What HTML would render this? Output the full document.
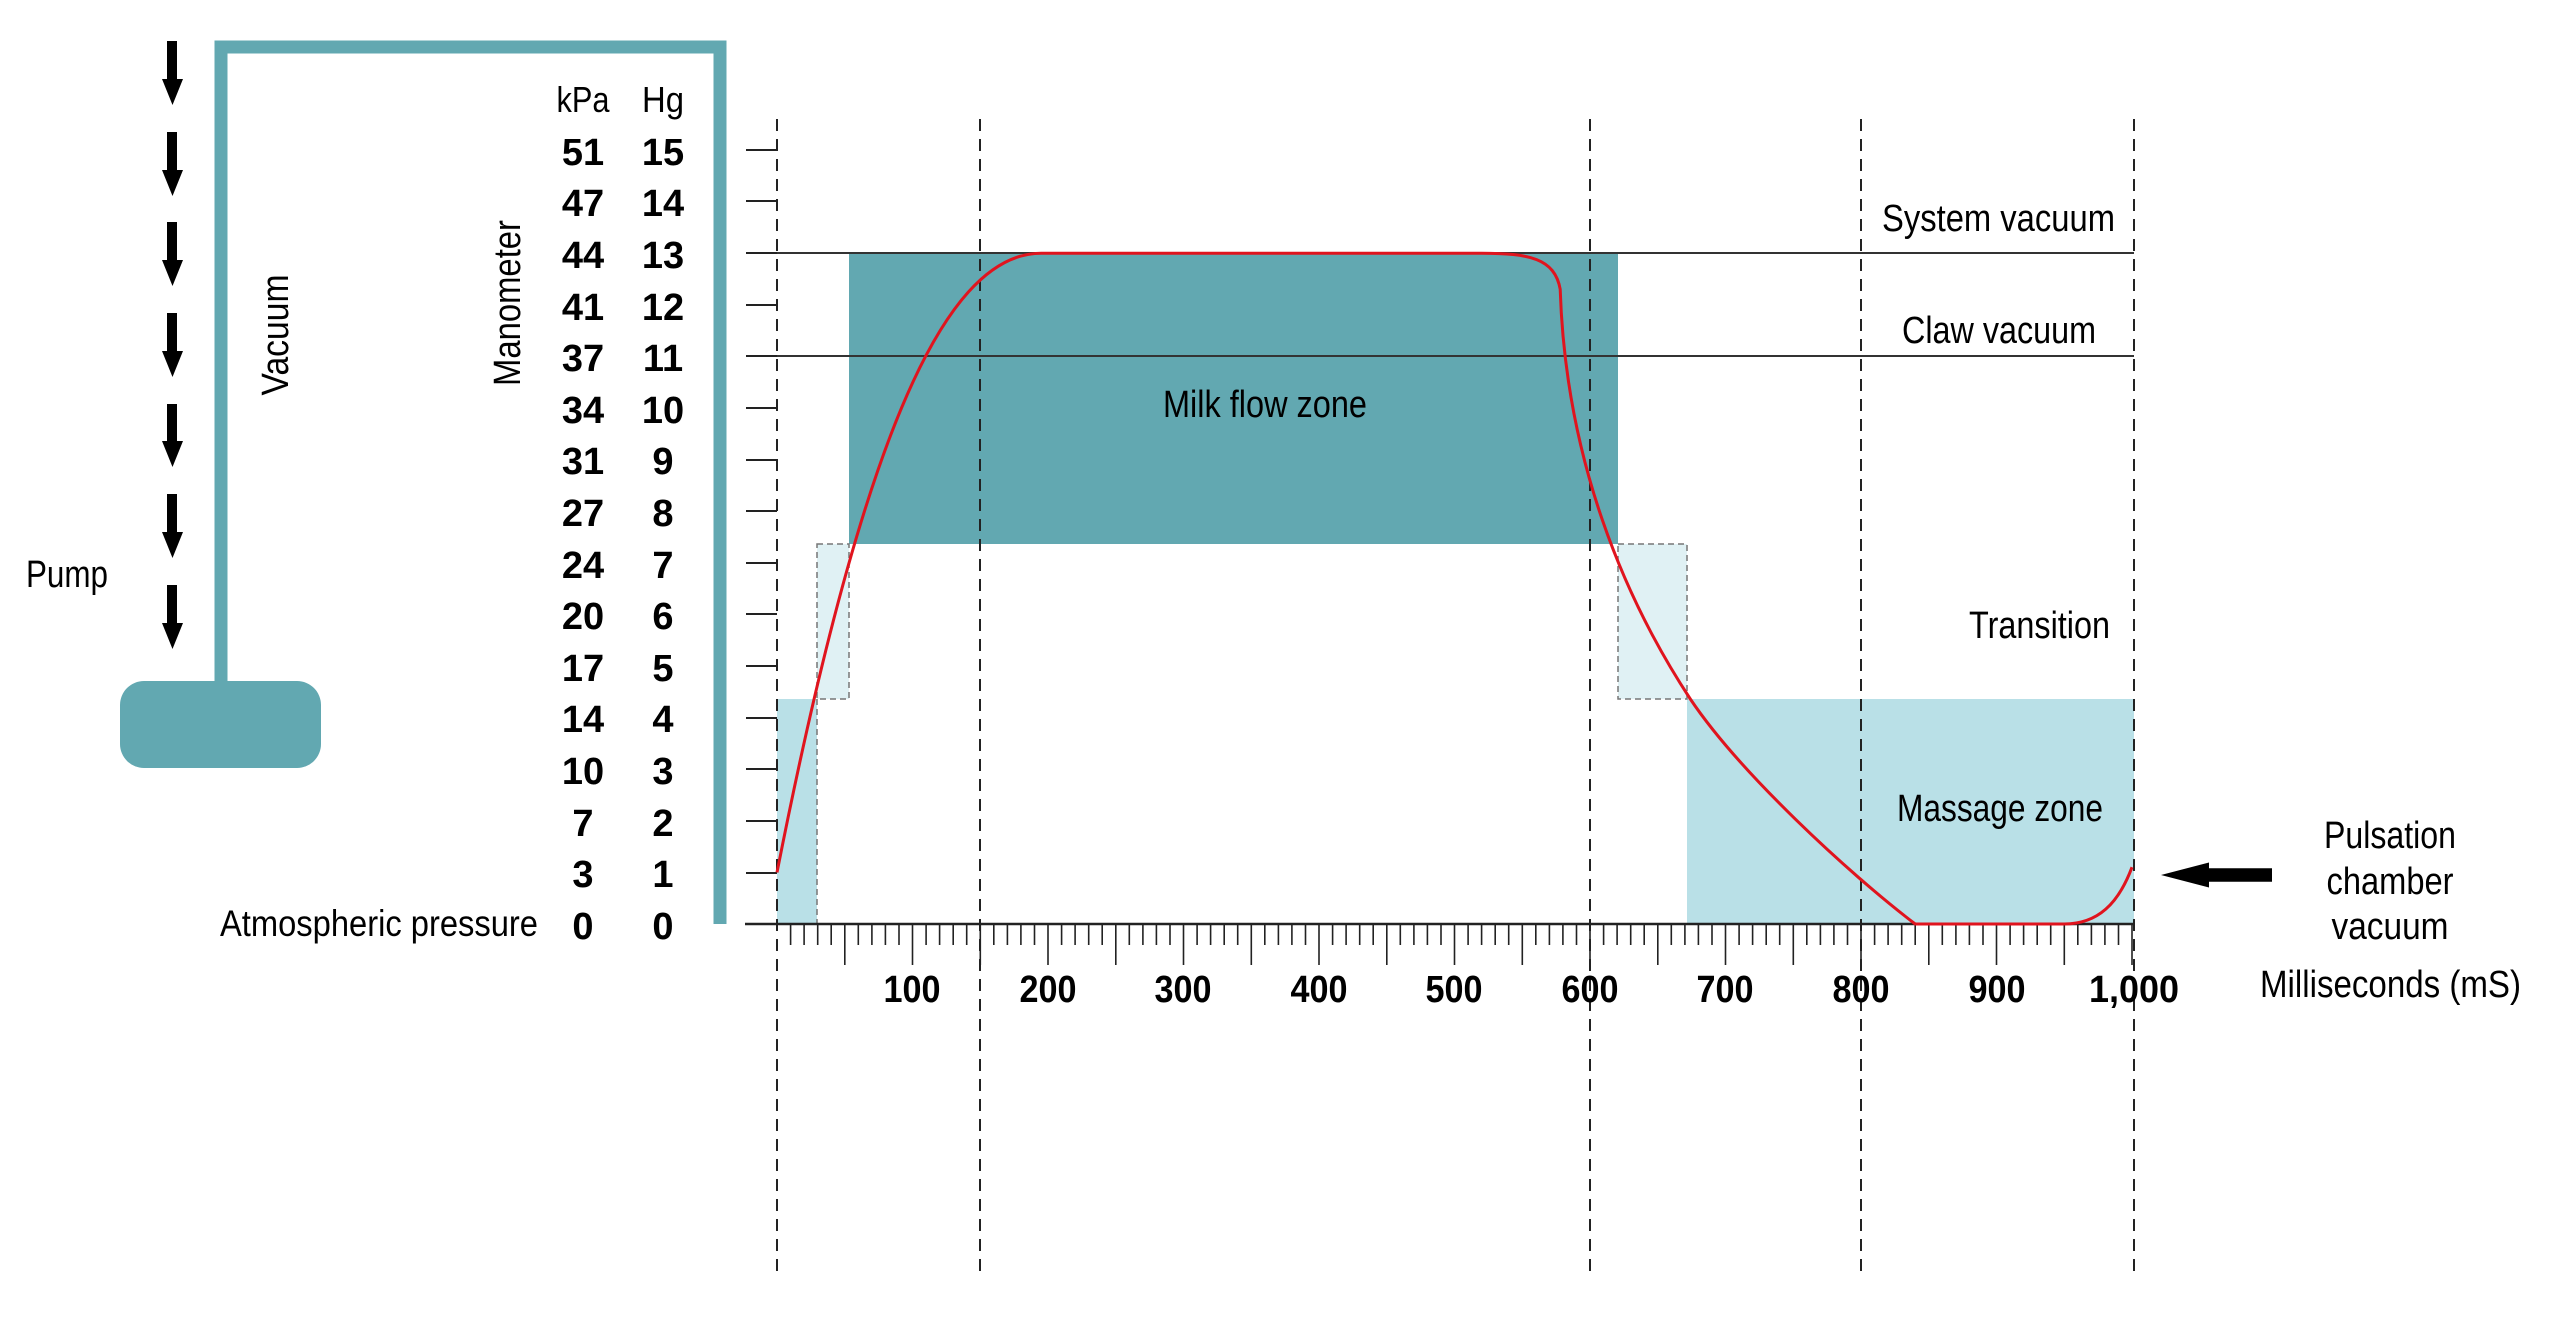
<!DOCTYPE html>
<html><head><meta charset="utf-8"><style>
html,body{margin:0;padding:0;background:#fff;}
svg{display:block;}
text{font-family:"Liberation Sans",sans-serif;fill:#000;}
</style></head><body>
<svg width="2560" height="1321" viewBox="0 0 2560 1321" xmlns="http://www.w3.org/2000/svg">
<!-- pipe -->
<path d="M221 681 V47 H720 V924" fill="none" stroke="#62a8b1" stroke-width="13"/>
<rect x="120" y="681" width="201" height="87" rx="24" fill="#62a8b1"/>
<!-- arrows -->
<g fill="#000">
<path d="M167 41h10v38h6l-10.5 26l-10.5-26h5z"/>
<path d="M167 132h10v38h6l-10.5 26l-10.5-26h5z"/>
<path d="M167 222h10v38h6l-10.5 26l-10.5-26h5z"/>
<path d="M167 313h10v38h6l-10.5 26l-10.5-26h5z"/>
<path d="M167 404h10v37h6l-10.5 26l-10.5-26h5z"/>
<path d="M167 494h10v38h6l-10.5 26l-10.5-26h5z"/>
<path d="M167 585h10v38h6l-10.5 26l-10.5-26h5z"/>
</g>
<text x="26" y="587" font-size="38" textLength="82" lengthAdjust="spacingAndGlyphs">Pump</text>
<text transform="translate(288,335) rotate(-90)" text-anchor="middle" font-size="38" textLength="121" lengthAdjust="spacingAndGlyphs">Vacuum</text>
<text transform="translate(520,303) rotate(-90)" text-anchor="middle" font-size="38" textLength="166" lengthAdjust="spacingAndGlyphs">Manometer</text>
<text x="220" y="936" font-size="37" textLength="318" lengthAdjust="spacingAndGlyphs">Atmospheric pressure</text>
<text x="583" y="112" font-size="36" text-anchor="middle" textLength="53" lengthAdjust="spacingAndGlyphs">kPa</text>
<text x="663" y="112" font-size="36" text-anchor="middle" textLength="42" lengthAdjust="spacingAndGlyphs">Hg</text>
<g font-size="38" font-weight="bold" text-anchor="middle">
<text x="583" y="165">51</text><text x="663" y="165">15</text>
<text x="583" y="216">47</text><text x="663" y="216">14</text>
<text x="583" y="268">44</text><text x="663" y="268">13</text>
<text x="583" y="320">41</text><text x="663" y="320">12</text>
<text x="583" y="371">37</text><text x="663" y="371">11</text>
<text x="583" y="423">34</text><text x="663" y="423">10</text>
<text x="583" y="474">31</text><text x="663" y="474">9</text>
<text x="583" y="526">27</text><text x="663" y="526">8</text>
<text x="583" y="578">24</text><text x="663" y="578">7</text>
<text x="583" y="629">20</text><text x="663" y="629">6</text>
<text x="583" y="681">17</text><text x="663" y="681">5</text>
<text x="583" y="732">14</text><text x="663" y="732">4</text>
<text x="583" y="784">10</text><text x="663" y="784">3</text>
<text x="583" y="836">7</text><text x="663" y="836">2</text>
<text x="583" y="887">3</text><text x="663" y="887">1</text>
<text x="583" y="939">0</text><text x="663" y="939">0</text>
</g>
<!-- zones -->
<rect x="849" y="253" width="769" height="291" fill="#62a8b1"/>
<rect x="777" y="699" width="40" height="225" fill="#b9e0e7"/>
<rect x="1687" y="699" width="447" height="225" fill="#b9e0e7"/>
<rect x="817" y="544" width="32" height="155" fill="#e0f1f4" stroke="#777" stroke-width="1.5" stroke-dasharray="6 4"/>
<rect x="1618" y="544" width="69" height="155" fill="#e0f1f4" stroke="#777" stroke-width="1.5" stroke-dasharray="6 4"/>
<line x1="817" y1="699" x2="817" y2="924" stroke="#777" stroke-width="1.5" stroke-dasharray="6 4"/>
<!-- horizontal lines -->
<line x1="777" y1="253" x2="2134" y2="253" stroke="#333" stroke-width="2"/>
<line x1="777" y1="356" x2="2134" y2="356" stroke="#333" stroke-width="2"/>
<!-- dashed verticals -->
<g stroke="#222" stroke-width="2" stroke-dasharray="12 8">
<line x1="777" y1="119" x2="777" y2="1274"/>
<line x1="980" y1="119" x2="980" y2="1274"/>
<line x1="1590" y1="119" x2="1590" y2="1274"/>
<line x1="1861" y1="119" x2="1861" y2="1274"/>
<line x1="2134" y1="119" x2="2134" y2="1274"/>
</g>
<!-- y ticks -->
<g stroke="#222" stroke-width="2">
<line x1="746" y1="873" x2="777" y2="873"/><line x1="746" y1="821" x2="777" y2="821"/>
<line x1="746" y1="769" x2="777" y2="769"/><line x1="746" y1="718" x2="777" y2="718"/>
<line x1="746" y1="666" x2="777" y2="666"/><line x1="746" y1="614" x2="777" y2="614"/>
<line x1="746" y1="563" x2="777" y2="563"/><line x1="746" y1="511" x2="777" y2="511"/>
<line x1="746" y1="460" x2="777" y2="460"/><line x1="746" y1="408" x2="777" y2="408"/>
<line x1="746" y1="356" x2="777" y2="356"/><line x1="746" y1="305" x2="777" y2="305"/>
<line x1="746" y1="253" x2="777" y2="253"/><line x1="746" y1="201" x2="777" y2="201"/>
<line x1="746" y1="150" x2="777" y2="150"/>
<line x1="745" y1="924" x2="2134" y2="924" stroke-width="2.5"/>
</g>
<path id="xt" fill="none" stroke="#222" stroke-width="1.6" d="
M790.6 924v21M804.1 924v21M817.7 924v21M831.2 924v21M844.8 924v41M858.3 924v21M871.9 924v21M885.4 924v21M899 924v21M912.5 924v41
M926.1 924v21M939.6 924v21M953.2 924v21M966.7 924v21M980.3 924v41M993.8 924v21M1007.4 924v21M1020.9 924v21M1034.5 924v21M1048 924v41
M1061.6 924v21M1075.1 924v21M1088.7 924v21M1102.2 924v21M1115.8 924v41M1129.3 924v21M1142.9 924v21M1156.4 924v21M1170 924v21M1183.5 924v41
M1197.1 924v21M1210.6 924v21M1224.2 924v21M1237.7 924v21M1251.3 924v41M1264.8 924v21M1278.4 924v21M1291.9 924v21M1305.5 924v21M1319 924v41
M1332.6 924v21M1346.1 924v21M1359.7 924v21M1373.2 924v21M1386.8 924v41M1400.3 924v21M1413.9 924v21M1427.4 924v21M1441 924v21M1454.5 924v41
M1468.1 924v21M1481.6 924v21M1495.2 924v21M1508.7 924v21M1522.3 924v41M1535.8 924v21M1549.4 924v21M1562.9 924v21M1576.5 924v21M1590 924v41
M1603.6 924v21M1617.1 924v21M1630.7 924v21M1644.2 924v21M1657.8 924v41M1671.3 924v21M1684.9 924v21M1698.4 924v21M1712 924v21M1725.5 924v41
M1739.1 924v21M1752.6 924v21M1766.2 924v21M1779.7 924v21M1793.3 924v41M1806.8 924v21M1820.4 924v21M1833.9 924v21M1847.5 924v21M1861 924v41
M1874.6 924v21M1888.1 924v21M1901.7 924v21M1915.2 924v21M1928.8 924v41M1942.3 924v21M1955.9 924v21M1969.4 924v21M1983 924v21M1996.5 924v41
M2010.1 924v21M2023.6 924v21M2037.2 924v21M2050.7 924v21M2064.3 924v41M2077.8 924v21M2091.4 924v21M2104.9 924v21M2118.5 924v21M2132 924v41"/>
<g font-size="38" font-weight="bold" text-anchor="middle">
<text x="912" y="1002" textLength="57" lengthAdjust="spacingAndGlyphs">100</text>
<text x="1048" y="1002" textLength="57" lengthAdjust="spacingAndGlyphs">200</text>
<text x="1183" y="1002" textLength="57" lengthAdjust="spacingAndGlyphs">300</text>
<text x="1319" y="1002" textLength="57" lengthAdjust="spacingAndGlyphs">400</text>
<text x="1454" y="1002" textLength="57" lengthAdjust="spacingAndGlyphs">500</text>
<text x="1590" y="1002" textLength="57" lengthAdjust="spacingAndGlyphs">600</text>
<text x="1725" y="1002" textLength="57" lengthAdjust="spacingAndGlyphs">700</text>
<text x="1861" y="1002" textLength="57" lengthAdjust="spacingAndGlyphs">800</text>
<text x="1997" y="1002" textLength="57" lengthAdjust="spacingAndGlyphs">900</text>
<text x="2134" y="1002" textLength="90" lengthAdjust="spacingAndGlyphs">1,000</text>
</g>
<!-- curve -->
<path fill="none" stroke="#e0141e" stroke-width="3" d="M777 872.4 C858.3 459.6 939.6 253.2 1041.2 253.2 L1481.6 253.2 C1529 253.2 1554.8 258.4 1560.2 289.3 C1565.6 459.6 1624 598 1690.3 699 C1739.1 771.8 1847.5 872.4 1915.2 924 L2064.3 924 C2098.1 924 2118.5 903.4 2132 867.2"/>
<!-- labels -->
<g font-size="38">
<text x="1882" y="231" textLength="233" lengthAdjust="spacingAndGlyphs">System vacuum</text>
<text x="1902" y="343" textLength="194" lengthAdjust="spacingAndGlyphs">Claw vacuum</text>
<text x="1163" y="417" textLength="204" lengthAdjust="spacingAndGlyphs">Milk flow zone</text>
<text x="1969" y="638" textLength="141" lengthAdjust="spacingAndGlyphs">Transition</text>
<text x="1897" y="821" textLength="206" lengthAdjust="spacingAndGlyphs">Massage zone</text>
<text x="2390" y="848" text-anchor="middle" textLength="132" lengthAdjust="spacingAndGlyphs">Pulsation</text>
<text x="2390" y="894" text-anchor="middle" textLength="127" lengthAdjust="spacingAndGlyphs">chamber</text>
<text x="2390" y="939" text-anchor="middle" textLength="117" lengthAdjust="spacingAndGlyphs">vacuum</text>
<text x="2260" y="997" textLength="261" lengthAdjust="spacingAndGlyphs">Milliseconds (mS)</text>
</g>
<path d="M2161 875 L2209 862.5 V868.3 H2272 V881.7 H2209 V887.5 Z" fill="#000"/>
</svg>
</body></html>
